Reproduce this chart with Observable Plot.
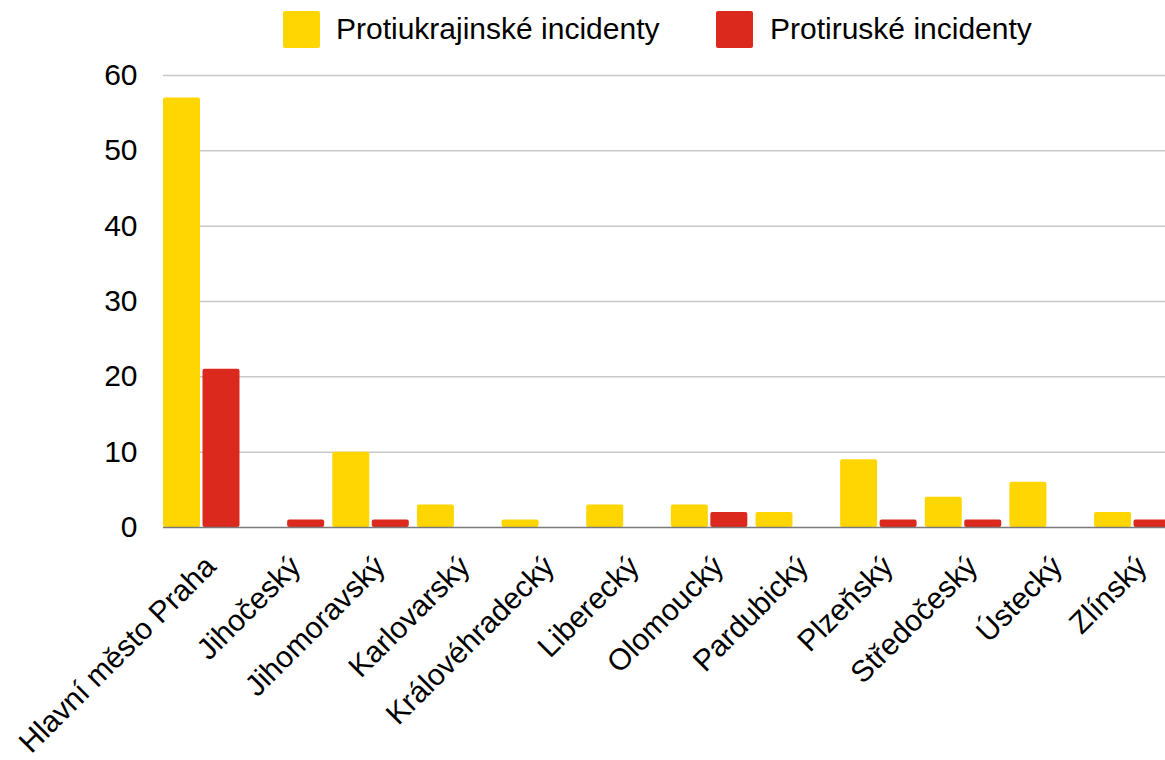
<!DOCTYPE html>
<html>
<head>
<meta charset="utf-8">
<script src="https://cdn.jsdelivr.net/npm/d3@7"></script>
<script src="https://cdn.jsdelivr.net/npm/@observablehq/plot@0.6"></script>
<style>
  body { margin: 0; background: #fff; font-family: "Liberation Sans", Arial, Helvetica, sans-serif; }
  #wrap { position: relative; width: 1165px; height: 760px; overflow: hidden; }
  #legend { position: absolute; left: 0; top: 0; width: 1165px; height: 60px; z-index: 2; }
  #chart { position: absolute; left: 0; top: 0; }
  .sw { position: absolute; top: 11px; width: 37px; height: 37px; border-radius: 2px; }
  .lt { position: absolute; top: 10px; font-size: 30px; line-height: 38px; color: #000; white-space: nowrap; }
</style>
</head>
<body>
<div id="wrap">
  <div id="chart"></div>
  <div id="legend"></div>
</div>
<script>
const regions = ["Hlavní město Praha", "Jihočeský", "Jihomoravský", "Karlovarský", "Královéhradecký", "Liberecký", "Olomoucký", "Pardubický", "Plzeňský", "Středočeský", "Ústecký", "Zlínský"];
const seriesNames = ["Protiukrajinské incidenty", "Protiruské incidenty"];
const seriesColors = ["#FFD602", "#DC291E"];
const antiUkrainian = [57, 0, 10, 3, 1, 3, 3, 2, 9, 4, 6, 2];
const antiRussian = [21, 1, 1, 0, 0, 0, 2, 0, 1, 1, 0, 1];
const yTicks = [0, 10, 20, 30, 40, 50, 60];

const dataUA = regions.map((r, i) => ({region: r, value: antiUkrainian[i]}));
const dataRU = regions.map((r, i) => ({region: r, value: antiRussian[i]}));

// legend
const legend = document.getElementById("legend");
const legendPos = [[283, 336], [716, 770]];
seriesNames.forEach((name, i) => {
  const sw = document.createElement("div");
  sw.className = "sw";
  sw.style.left = legendPos[i][0] + "px";
  sw.style.background = seriesColors[i];
  legend.appendChild(sw);
  const t = document.createElement("div");
  t.className = "lt";
  t.style.left = legendPos[i][1] + "px";
  t.textContent = name;
  legend.appendChild(t);
});

const step = 84.64;
const left = 163;
const barW = 37;

const chart = Plot.plot({
  width: 1165,
  height: 760,
  marginLeft: left,
  marginRight: 0,
  marginTop: 75,
  marginBottom: 233,
  style: {fontFamily: '"Liberation Sans", Arial, Helvetica, sans-serif', fontSize: "30px", color: "#000", background: "#fff"},
  x: {domain: regions, range: [left, left + step * regions.length], padding: 0, round: false},
  y: {domain: [0, 60]},
  marks: [
    Plot.ruleY(yTicks.filter(d => d > 0), {stroke: "#c8c8c8", strokeWidth: 1.5}),
    Plot.barY(dataUA, {x: "region", y: "value", fill: seriesColors[0], insetLeft: 0, insetRight: step - barW, rx: 2}),
    Plot.barY(dataRU, {x: "region", y: "value", fill: seriesColors[1], insetLeft: barW + 2.5, insetRight: step - 2 * barW - 2.5, rx: 2}),
    Plot.ruleY([0], {stroke: "#7a7a7a", strokeWidth: 1.5}),
    Plot.axisY({ticks: yTicks, tickSize: 0, tickPadding: 26, fontSize: 30, label: null}),
    Plot.axisX({tickSize: 0, tickRotate: -45, tickPadding: 34, fontSize: 30, label: null, dx: 5})
  ]
});
document.getElementById("chart").appendChild(chart);
</script>
</body>
</html>
